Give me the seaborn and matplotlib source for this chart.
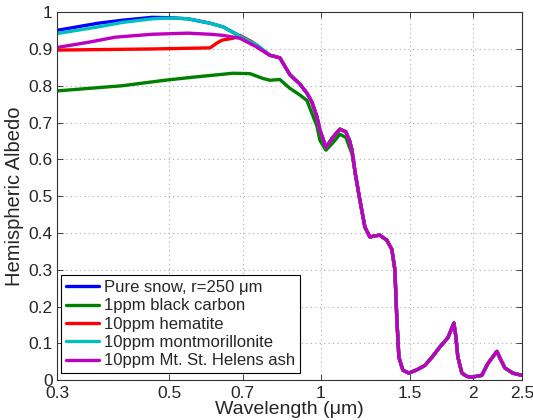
import numpy as np
import pandas as pd
import matplotlib
matplotlib.use("Agg")
import matplotlib.pyplot as plt
import seaborn as sns

# common tail of all curves (wavelength in um, albedo)
tail_wl = [0.792, 0.829, 0.868, 0.908, 0.938, 0.96, 0.982, 0.995, 1.023, 1.056, 1.09, 1.12,
           1.14, 1.152, 1.17, 1.194, 1.222, 1.25, 1.279, 1.308, 1.351, 1.382, 1.401, 1.414,
           1.427, 1.453, 1.493, 1.549, 1.607, 1.666, 1.72, 1.784, 1.834, 1.85, 1.867, 1.902,
           1.946, 1.99, 2.083, 2.141, 2.231, 2.272, 2.314, 2.399, 2.5]
tail_alb = [0.883, 0.876, 0.83, 0.805, 0.78, 0.755, 0.715, 0.68, 0.633, 0.66, 0.682, 0.675,
            0.65, 0.625, 0.56, 0.49, 0.416, 0.389, 0.392, 0.394, 0.38, 0.355, 0.30, 0.163,
            0.062, 0.027, 0.019, 0.028, 0.040, 0.065, 0.09, 0.115, 0.155, 0.12, 0.063, 0.019,
            0.01, 0.008, 0.013, 0.045, 0.078, 0.055, 0.033, 0.019, 0.013]

snow_wl = [0.3, 0.304, 0.362, 0.4035, 0.463, 0.502, 0.545, 0.603, 0.64, 0.697, 0.747]
snow_alb = [0.951, 0.952, 0.97, 0.978, 0.986, 0.985, 0.982, 0.97, 0.96, 0.932, 0.91]

mont_wl = [0.3, 0.362, 0.4035, 0.463, 0.502, 0.545, 0.603, 0.64, 0.697, 0.747]
mont_alb = [0.942, 0.96, 0.972, 0.982, 0.984, 0.982, 0.97, 0.96, 0.932, 0.91]

ash_wl = [0.3, 0.3456, 0.391, 0.463, 0.545, 0.603, 0.64, 0.691, 0.747]
ash_alb = [0.904, 0.918, 0.932, 0.94, 0.943, 0.94, 0.937, 0.929, 0.905]

hem_wl = [0.3, 0.463, 0.603, 0.622, 0.637, 0.669, 0.691, 0.733, 0.747]
hem_alb = [0.897, 0.9, 0.903, 0.916, 0.924, 0.929, 0.937, 0.918, 0.905]

bc_wl = [0.3, 0.4035, 0.491, 0.555, 0.669, 0.723, 0.767, 0.792, 0.829, 0.868, 0.908, 0.938,
         0.982, 0.995, 1.023, 1.056, 1.09, 1.12, 1.152]
bc_alb = [0.786, 0.80, 0.815, 0.823, 0.834, 0.833, 0.82, 0.815, 0.817, 0.793, 0.775, 0.76,
          0.69, 0.652, 0.625, 0.645, 0.668, 0.66, 0.615]

labels = ["Pure snow, r=250 μm", "1ppm black carbon", "10ppm hematite",
          "10ppm montmorillonite", "10ppm Mt. St. Helens ash"]
colors = ["#0000ff", "#008000", "#ff0000", "#00bfbf", "#bf00bf"]

xtick_vals = [0.3, 0.5, 0.7, 1, 1.5, 2, 2.5]
xtick_labels = ["0.3", "0.5", "0.7", "1", "1.5", "2", "2.5"]
ytick_vals = [0, 0.1, 0.2, 0.3, 0.4, 0.5, 0.6, 0.7, 0.8, 0.9, 1]
ytick_labels = ["0", "0.1", "0.2", "0.3", "0.4", "0.5", "0.6", "0.7", "0.8", "0.9", "1"]

# build long table
parts = [
    (labels[0], snow_wl + tail_wl, snow_alb + tail_alb),
    (labels[1], bc_wl + tail_wl[14:], bc_alb + tail_alb[14:]),
    (labels[2], hem_wl + tail_wl, hem_alb + tail_alb),
    (labels[3], mont_wl + tail_wl, mont_alb + tail_alb),
    (labels[4], ash_wl + tail_wl, ash_alb + tail_alb),
]
rows = []
for name, wl, alb in parts:
    for w, a in zip(wl, alb):
        rows.append({"series": name, "wl": w, "alb": a})
df = pd.DataFrame(rows)

sns.set_style("ticks")
plt.rcParams["font.family"] = ["Liberation Sans", "DejaVu Sans"]

fig = plt.figure(figsize=(5.33, 4.2), dpi=100)
ax = fig.add_axes([0.107, 0.095, 0.872, 0.876])

sns.lineplot(data=df, x="wl", y="alb", hue="series", hue_order=labels,
             palette=colors, estimator=None, sort=False, linewidth=2.4, ax=ax)

ax.set_xscale("log")
ax.set_xlim(0.3, 2.5)
ax.set_ylim(0, 1)
ax.set_xticks(xtick_vals)
ax.set_xticklabels(xtick_labels)
ax.minorticks_off()
ax.set_yticks(ytick_vals)
ax.set_yticklabels(ytick_labels)
ax.tick_params(direction="in", top=True, right=True, labelsize=12.5, length=4, width=0.6)
ax.tick_params(axis="x", pad=4)
ax.tick_params(axis="y", pad=3)
ax.grid(True, linestyle=(0, (1, 3)), color="#aaaaaa", linewidth=0.8)
for s in ax.spines.values():
    s.set_color("#333333")
    s.set_linewidth(0.8)

ax.set_xlabel("Wavelength (μm)", fontsize=14, labelpad=0)
ax.set_ylabel("Hemispheric Albedo", fontsize=14.5, labelpad=3)

leg = ax.legend(loc="lower left", bbox_to_anchor=(0.008, 0.018), fontsize=12,
                frameon=True, fancybox=False, edgecolor="black", framealpha=1,
                handlelength=2.0, handletextpad=0.3, labelspacing=0.2,
                borderpad=0.3, borderaxespad=0)
leg.get_frame().set_linewidth(0.8)

fig.savefig("out.png", dpi=100)
